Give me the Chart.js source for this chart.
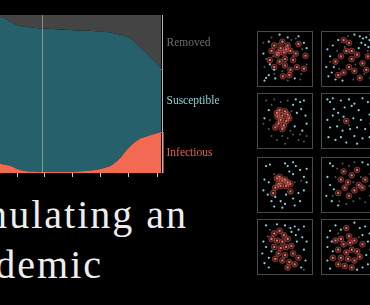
<!DOCTYPE html>
<html>
<head>
<meta charset="utf-8">
<script src="https://cdn.jsdelivr.net/npm/chart.js@4"></script>
<style>
  html, body { margin: 0; padding: 0; background: #000; }
  body { width: 370px; height: 305px; position: relative; overflow: hidden; }
  #main { position: absolute; left: 0; top: 0; }
  .panel { position: absolute; width: 54px; height: 54px; border: 1px solid #4a4a4a; }
  .panel canvas { display: block; }
  .title { position: absolute; color: #eeeeee; font-family: "Liberation Serif", serif;
           font-size: 40px; letter-spacing: 2px; white-space: nowrap; text-align: right; }
</style>
</head>
<body>
<canvas id="main" width="250" height="177"></canvas>
<div class="title" style="right:182px; top:191px;">Simulating an</div>
<div class="title" style="right:267px; top:241px;">Epidemic</div>
<div id="panels"></div>
<script>
// main SIR chart (share of population per day)
var days        = [0, 5, 10, 17, 25, 33, 43, 55, 70, 85, 100, 110, 118, 125, 133, 140, 145, 150, 155, 160];
var infectious  = [0.06, 0.052, 0.046, 0.026, 0.013, 0.009, 0.007, 0.007, 0.007, 0.013, 0.026, 0.046, 0.085, 0.14, 0.19, 0.22, 0.23, 0.24, 0.25, 0.26];
var susceptible = [0.927, 0.928, 0.914, 0.909, 0.912, 0.911, 0.907, 0.903, 0.898, 0.887, 0.869, 0.842, 0.793, 0.725, 0.646, 0.57, 0.535, 0.49, 0.45, 0.40];
var removed     = [0.013, 0.02, 0.04, 0.065, 0.075, 0.08, 0.086, 0.09, 0.095, 0.10, 0.105, 0.112, 0.122, 0.135, 0.164, 0.21, 0.235, 0.27, 0.30, 0.34];
var tickDays    = [17, 44, 72, 100, 128, 157];
var markerDay   = 42;
var seriesNames = ["Infectious", "Susceptible", "Removed"];

function pts(arr) {
  return days.map(function (d, i) { return { x: d, y: arr[i] }; });
}

var sideLabels = {
  id: "sideLabels",
  afterDraw: function (chart) {
    var c = chart.ctx, a = chart.chartArea, y = chart.scales.y, x = chart.scales.x;
    var n = days.length - 1;
    var i0 = infectious[n], s0 = i0 + susceptible[n];
    // marker line
    var mx = Math.round(x.getPixelForValue(markerDay)) + 0.5;
    c.save();
    c.strokeStyle = "rgba(205,205,150,0.55)";
    c.lineWidth = 1;
    c.beginPath(); c.moveTo(mx, a.top); c.lineTo(mx, a.bottom); c.stroke();
    // right axis
    var ax = Math.round(a.right) + 1.5;
    c.strokeStyle = "#b8b8b8";
    c.beginPath(); c.moveTo(ax, a.top); c.lineTo(ax, a.bottom); c.stroke();
    c.strokeStyle = "#b03a30";
    c.beginPath(); c.moveTo(ax + 1, y.getPixelForValue(i0)); c.lineTo(ax + 1, a.bottom); c.stroke();
    c.strokeStyle = "#777";
    [i0, s0].forEach(function (v) {
      var py = Math.round(y.getPixelForValue(v)) + 0.5;
      c.beginPath(); c.moveTo(ax - 2, py); c.lineTo(ax, py); c.stroke();
    });
    // labels
    c.font = "11.5px 'Liberation Serif', serif";
    c.textBaseline = "middle";
    var mids = [(0 + i0) / 2, (i0 + s0) / 2, (s0 + 1) / 2];
    var cols = ["#e6604f", "#8fd0de", "#6e6e6e"];
    mids.forEach(function (v, k) {
      c.fillStyle = cols[k];
      c.fillText(seriesNames[k], ax + 4, y.getPixelForValue(v) + 1);
    });
    c.restore();
  }
};

new Chart(document.getElementById("main"), {
  type: "line",
  data: {
    datasets: [
      { label: seriesNames[0], data: pts(infectious), backgroundColor: "#f26a52", fill: "origin" },
      { label: seriesNames[1], data: pts(susceptible), backgroundColor: "#26606a", fill: "-1" },
      { label: seriesNames[2], data: pts(removed), backgroundColor: "#444444", fill: "-1" }
    ]
  },
  options: {
    responsive: false,
    animation: false,
    layout: { padding: { top: 15, right: 89, left: 0, bottom: 0 } },
    elements: { point: { radius: 0 }, line: { borderWidth: 0, tension: 0.3 } },
    plugins: { legend: { display: false }, tooltip: { enabled: false } },
    scales: {
      x: {
        type: "linear", min: 0, max: 160,
        afterBuildTicks: function (axis) { axis.ticks = tickDays.map(function (v) { return { value: v }; }); },
        grid: { drawOnChartArea: false, color: "#cccccc", tickLength: 4 },
        border: { display: false },
        ticks: { display: false }
      },
      y: { stacked: true, min: 0, max: 1, display: false }
    }
  },
  plugins: [sideLabels]
});

// small simulation panels: [x, y] on a 0..10 box
var panelLeft = [257, 321];
var panelTop  = [31, 93, 157, 219];

var infected1 = [[2.5,6.5],[3,7.5],[3.5,5.8],[4.2,7],[4.8,6.2],[5.5,7.5],[6,6.5],[5,5],[4,4.5],[6.5,4.8],[7,6],[7.2,3.5],[6,3],[5,3.8],[3,3.5],[8.5,3.2],[4.5,8.2],[7.5,7.8],[2.2,4.8],[5.8,2],[4.6,1.8],[8.8,5.6],[3.8,6.2],[5.2,6.8]];
var suscept1  = [[1.5,1.5],[2,2],[1.2,1],[3.2,1.4],[1,6],[3,3],[5.5,9],[7.5,9.2],[8.5,8],[2.2,4],[6.8,1.4],[9,7],[2,8.2],[4,9.5]];
var removed1  = [[1.5,5],[2.5,9],[3,2.2],[4.5,2.8],[6.2,8.5],[7,8.8],[8,2.2],[9,4],[8.2,6.8],[1.2,3.5],[6.5,5.5],[3.8,7.8],[5.5,1],[7.8,1.2],[2.8,5.5],[1,8]];

var infected2 = [[4,8.5],[5,8],[4.5,6.5],[3.5,5.5],[2.5,4.5],[5.5,5],[6.5,5.8],[7.5,4.2],[5,3.5],[4,2.5],[6,2.8],[8.2,3],[3,2],[7,1.5],[5.5,6.5],[8.5,5.5]];
var suscept2  = [[7,9.2],[7.6,8.8],[8.2,9],[8.8,8.5],[7.3,8],[8,7.6],[8.6,7.2],[6.8,7],[9,9.5],[1,6.8],[1.5,5.5],[2,7.5],[0.8,3.5],[1.8,2.5],[2.5,1.2],[1.2,1.8],[3,8.5],[9.2,6],[6,9.5],[3.8,1],[9,1.5],[2.2,3.5]];
var removed2  = [[2.8,6.5],[4.8,9.2],[6.2,4],[3.2,3.2],[7.8,2.2],[1.5,4.5],[5.8,1.2],[8.5,6.5],[4.2,7.2]];

var infected3 = [[3.5,6.5],[4,7],[4.5,6],[5,6.8],[4.2,5.2],[3.8,4.5],[5.2,5],[4.8,4.2],[5.5,6.2],[3.2,3.8],[4.5,3.5],[5.8,5.5],[3.6,5.8]];
var suscept3  = [[7,9],[7.8,8.5],[8.5,8.8],[6.5,8],[8,7.2],[7.2,6.5],[8.8,6],[9,4.5],[1.2,5.5],[2,7],[6.8,4],[8.2,3.2]];
var removed3  = [[1.5,8.8],[2.5,8],[3,9],[4.2,8.5],[5.5,8.8],[1,4.5],[2,3.5],[2.5,2.2],[3.5,1.5],[4.5,2.2],[5.5,1.8],[6.5,2.5],[7.5,1.5],[8.5,1.2],[6.2,6.8],[2.2,5.2],[6,3.2],[7.8,2.5],[9,2.2],[5,0.8]];

var infected4 = [[4.5,5]];
var suscept4  = [[1,9],[1.5,8.5],[2,9.2],[3.5,8.8],[5,9],[6,8.2],[7.5,9.2],[8.5,8.5],[4.2,7.5],[5.5,7.8],[6.8,7],[3,6.5],[2,6],[1,5.2],[4,5.8],[5.8,5.5],[7.2,5.2],[8.8,6.2],[1.5,3.8],[2.8,4],[3.8,3.2],[5.2,3.5],[6.5,3.8],[8,3.5],[1.2,2],[2.5,1.5],[3.5,2],[4.5,1],[6,2.2],[7.5,1.8],[8.8,2],[6.5,0.8],[9,4.5],[2.2,7.2]];
var removed4  = [[3.2,5.2],[5,4.2]];

var infected5 = [[3.5,6.2],[4,6.5],[4.5,5.8],[5,6],[5.5,5.5],[3.8,5.2],[4.2,4.8],[5.2,4.8],[6,5.2],[3.2,4.5],[6,3.8],[2.8,3.5]];
var suscept5  = [[1.5,8.5],[2.2,8.8],[5,9],[5.5,8.5],[6.5,9.2],[7,8.5],[5.8,7.5],[6.5,7],[7.8,7.8],[8.5,6.5],[9,5.5],[1.2,6],[2,5.5],[1,4],[1.8,3.2],[2.5,2],[3.2,2.8],[4.2,2],[5,1.5],[3,1],[4.5,0.8],[6.5,2.5],[7.5,3.5],[8.5,4],[6.8,1.2],[7.8,2],[5.2,3.2],[9,8]];
var removed5  = [[6.8,5.5],[3,7],[8,5.8]];

var infected6 = [[4,7.5],[3.5,6],[4.8,5.5],[5.5,6.8],[4.2,4.5],[6,4],[6.8,5],[7.5,4.5],[5,3],[6.5,7.8],[3,3.5],[8,6]];
var suscept6  = [[1.5,9],[2,8.5],[1,6.5],[1.5,5],[2.2,4.2],[0.8,3],[1.8,2],[3,1.2],[8.5,8.8],[7.5,9.2],[9,7],[9,3]];
var removed6  = [[2.8,8],[3.8,9],[5,8.5],[6,9.2],[2.5,6.5],[3.2,2],[4.5,1.5],[5.8,2],[7,2.5],[8,1.8],[8.8,4.8],[7.2,6.5],[5.8,5.5],[2,3]];

var infected7 = [[3,7.5],[4,8],[4.8,7.2],[3.5,6.2],[4.5,6],[5.5,6.5],[3,5],[4.2,4.8],[5.2,5],[6.2,5.2],[3.8,3.8],[5,3.5],[6.5,3.8],[4.5,2.5],[5.8,2.2],[6.8,1.8],[3.2,2.8],[7.5,3],[5.5,1.2],[2.5,6.5]];
var suscept7  = [[1.5,9],[3.5,9.2],[5,9],[6,8.5],[6.8,8.8],[7.5,8.2],[8.5,8.8],[7,7.2],[8.2,6.8],[1,6],[1.5,5],[0.8,3.8],[2,3],[1.2,2],[2,1.2],[8.5,4.5],[8.8,2.5],[8,1.2],[2.5,4.2],[7.2,6],[6.2,7.8],[9,6]];
var removed7  = [[2.2,8.2],[1.8,7],[8.5,0.8]];

var infected8 = [[4.5,8.5],[5,7],[3.5,6.5],[4,5.5],[5.2,5.8],[6,6.2],[3,4.5],[4.5,4],[5.5,4.5],[6.5,4.2],[2,3],[3.5,3],[4.8,2.8],[6,2.5],[3,1.8],[4.2,1.5],[5.5,1.2],[7,3.2],[7.5,5.5],[2.5,6.2]];
var suscept8  = [[1.5,8],[2.5,9],[3.5,8.2],[6,9.5],[7,8.5],[8,8.8],[8.8,7.5],[7.5,7.2],[1,6.8],[1.8,6],[1,5],[8.5,6],[9,4.5],[8.2,3.5],[1,2.5],[1.5,1],[8.5,1.8],[7.5,1.2],[6.5,0.8],[2,4.2]];
var removed8  = [[3,7.5],[6.8,6.8],[9,3]];

var panels = [
  [infected1, suscept1, removed1], [infected2, suscept2, removed2],
  [infected3, suscept3, removed3], [infected4, suscept4, removed4],
  [infected5, suscept5, removed5], [infected6, suscept6, removed6],
  [infected7, suscept7, removed7], [infected8, suscept8, removed8]
];

function xy(list) { return list.map(function (p) { return { x: p[0], y: p[1] }; }); }

var holder = document.getElementById("panels");
panels.forEach(function (p, k) {
  var box = document.createElement("div");
  box.className = "panel";
  box.style.left = panelLeft[k % 2] + "px";
  box.style.top = panelTop[Math.floor(k / 2)] + "px";
  var cv = document.createElement("canvas");
  cv.width = 54; cv.height = 54;
  box.appendChild(cv);
  holder.appendChild(box);
  new Chart(cv, {
    type: "scatter",
    data: {
      datasets: [
        { data: xy(p[2]), pointRadius: 1, backgroundColor: "#555555", borderWidth: 0 },
        { data: xy(p[1]), pointRadius: 1.1, backgroundColor: "#85d2e0", borderWidth: 0 },
        { data: xy(p[0]), pointRadius: 2.9, backgroundColor: "rgba(225,95,85,0.28)", borderColor: "rgba(215,95,85,0.65)", borderWidth: 0.7 },
        { data: xy(p[0]), pointRadius: 1.1, backgroundColor: "#ee8a7c", borderWidth: 0 }
      ]
    },
    options: {
      responsive: false,
      animation: false,
      layout: { padding: 0, autoPadding: false },
      plugins: { legend: { display: false }, tooltip: { enabled: false } },
      scales: {
        x: { min: 0, max: 10, display: false },
        y: { min: 0, max: 10, display: false }
      }
    }
  });
});
</script>
</body>
</html>
